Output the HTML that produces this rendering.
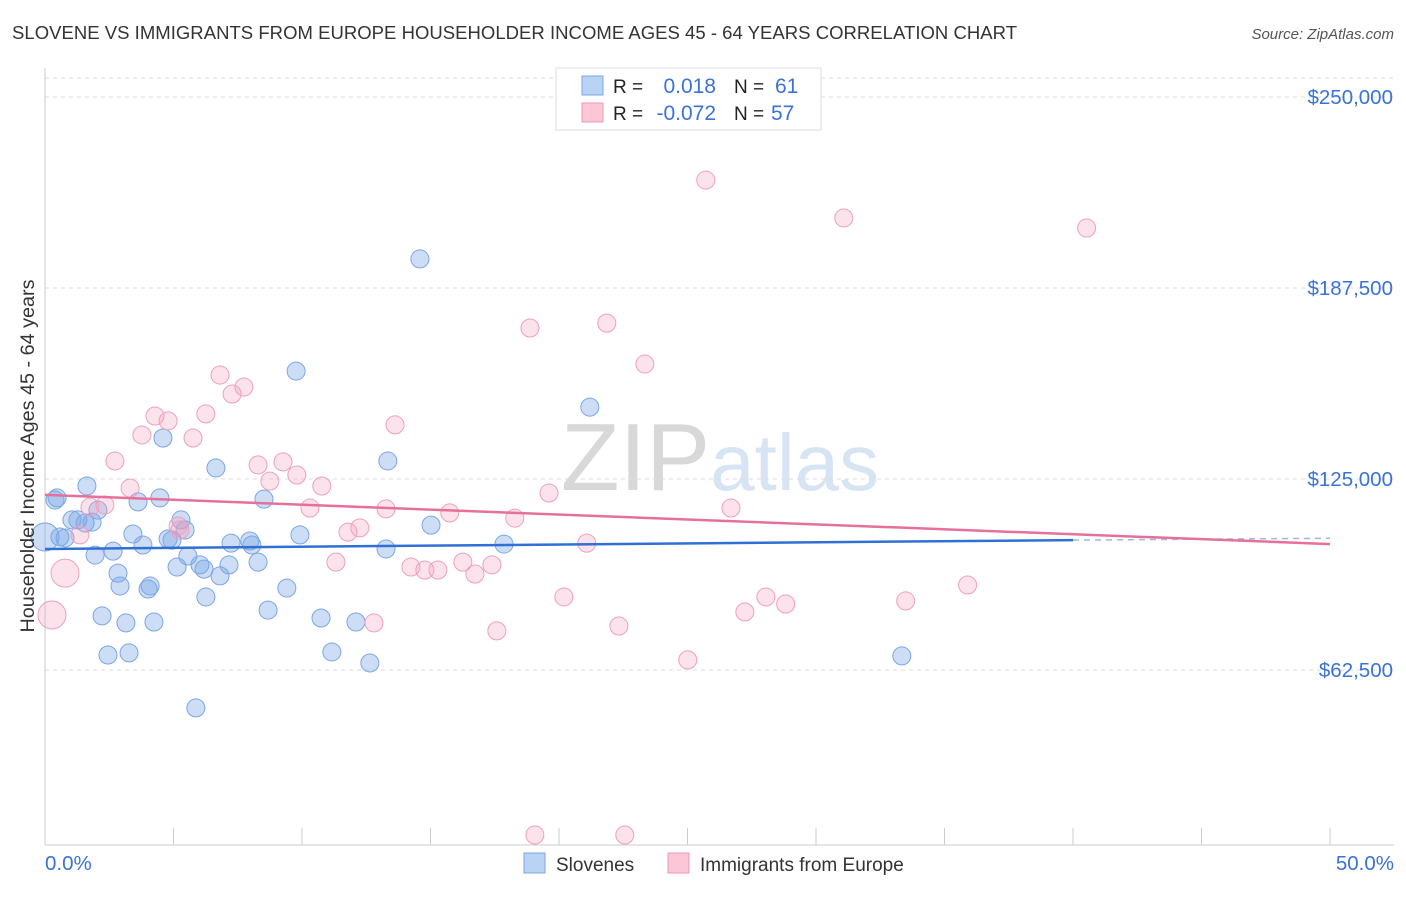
<!DOCTYPE html>
<html><head><meta charset="utf-8"><style>
body{margin:0;background:#fff;font-family:"Liberation Sans",sans-serif;}
svg text{font-family:"Liberation Sans",sans-serif;}
</style></head><body>
<svg id="c" width="1406" height="892" xmlns="http://www.w3.org/2000/svg">
<text x="12" y="39" font-size="18.5" fill="#333" textLength="1005">SLOVENE VS IMMIGRANTS FROM EUROPE HOUSEHOLDER INCOME AGES 45 - 64 YEARS CORRELATION CHART</text>
<text x="1394" y="39" font-size="15" fill="#555" font-style="italic" text-anchor="end">Source: ZipAtlas.com</text>
<text x="720" y="490" font-size="96" fill="#e4e4e4" text-anchor="middle" font-family="Liberation Serif"><tspan fill="#d8d8d8">ZIP</tspan><tspan fill="#d6e4f4" font-family="Liberation Sans" font-size="80">atlas</tspan></text>
<g id="grid"></g>
<g id="axes"></g>
<g id="marks"></g>
<text transform="translate(34,456) rotate(-90)" font-size="19.8" fill="#333" text-anchor="middle">Householder Income Ages 45 - 64 years</text>
<text x="45" y="870" font-size="20.5" fill="#3a72d8">0.0%</text>
<text x="1394" y="870" font-size="20.5" fill="#3a72d8" text-anchor="end">50.0%</text>
<g>
<rect x="556" y="68" width="265" height="62" fill="#fff" stroke="#ddd"/>
<rect x="582" y="76" width="21" height="19" fill="#b9d3f5" stroke="#7aa7e6"/>
<rect x="582" y="103" width="21" height="19" fill="#fbc6d6" stroke="#ec9ab6"/>
<text x="613" y="93" font-size="19" fill="#222">R =</text>
<text x="716" y="93" font-size="21" fill="#3a72d8" text-anchor="end">0.018</text>
<text x="734" y="93" font-size="19" fill="#222">N =</text>
<text x="775" y="93" font-size="21" fill="#3a72d8">61</text>
<text x="613" y="120" font-size="19" fill="#222">R =</text>
<text x="716" y="120" font-size="21" fill="#3a72d8" text-anchor="end">-0.072</text>
<text x="734" y="120" font-size="19" fill="#222">N =</text>
<text x="771" y="120" font-size="21" fill="#3a72d8">57</text>
</g>
<g>
<rect x="524" y="853" width="21" height="20" fill="#b9d3f5" stroke="#7aa7e6"/>
<text x="556" y="871" font-size="19" fill="#333">Slovenes</text>
<rect x="668" y="853" width="21" height="20" fill="#fbc6d6" stroke="#ec9ab6"/>
<text x="700" y="871" font-size="19" fill="#333">Immigrants from Europe</text>
</g>
</svg>
<script>
const yTicks=[62500,125000,187500,250000];
const yTickLabels=["$62,500","$125,000","$187,500","$250,000"];
const xTicks=[0,5,10,15,20,25,30,35,40,45,50];
const sloveneX=[0.39,0.47,0.58,0.78,1.05,1.28,1.56,1.63,1.83,1.95,2.06,2.22,2.45,2.65,2.84,2.92,3.15,3.27,3.42,3.62,3.81,4.01,4.09,4.24,4.47,4.59,4.79,4.94,5.14,5.29,5.45,5.56,5.87,6.03,6.19,6.26,6.65,6.81,7.16,7.24,7.97,8.05,8.29,8.52,8.68,9.41,9.77,9.92,10.74,11.16,12.10,12.64,13.27,13.34,14.59,15.02,17.86,21.20,33.34,0.0];
const sloveneY=[118.1,118.8,106.0,105.7,111.6,111.6,110.6,122.7,110.9,100.1,114.8,80.2,67.4,101.4,94.2,90.0,77.9,68.1,107.0,117.5,103.4,89.0,90.0,78.2,118.8,138.4,105.4,105.0,96.2,111.6,108.3,99.8,50.1,96.9,95.5,86.4,128.6,93.3,96.9,104.0,104.7,103.4,97.8,118.4,82.1,89.3,160.3,106.7,79.5,68.4,78.2,64.8,102.1,130.9,197.0,109.9,103.7,148.5,67.1,106.0];
const sloveneR=[9,9,9,9,9,9,9,9,9,9,9,9,9,9,9,9,9,9,9,9,9,9,9,9,9,9,9,9,9,9,9,9,9,9,9,9,9,9,9,9,9,9,9,9,9,9,9,9,9,9,9,9,9,9,9,9,9,9,9,14];
const immX=[0.27,0.78,1.36,2.33,2.72,3.31,3.77,4.28,4.79,5.18,5.76,6.26,6.81,7.28,7.74,8.29,8.75,9.26,9.80,10.31,10.77,11.32,11.79,12.25,12.80,13.27,13.62,14.24,14.78,15.29,15.75,16.26,16.73,17.39,17.58,18.28,18.87,19.61,20.19,21.08,21.86,22.33,22.56,19.06,23.34,25.01,25.71,26.69,27.23,28.05,28.82,31.08,33.49,35.90,40.53,1.75,5.25];
const immY=[80.5,94.2,106.7,116.5,130.9,122.0,139.4,145.6,144.0,109.6,138.4,146.3,159.0,152.8,155.1,129.6,124.3,130.6,126.3,115.5,122.7,97.8,107.6,109.0,77.9,115.2,142.7,96.2,95.2,95.2,113.9,97.8,93.9,96.9,75.3,112.2,174.4,120.4,86.4,104.0,176.0,76.9,8.5,8.5,162.6,65.8,222.8,115.5,81.5,86.4,84.1,210.4,85.1,90.3,207.1,115.8,108.3];
const immR=[14,14];
const sloveneTrend=[[0,102.1],[40,105.0],[50,105.6]];
const immTrend=[[0,119.8],[50,103.7]];
const NS="http://www.w3.org/2000/svg";
const xs=p=>45+p*25.7;
const ys=v=>861-v*1000/327.2;
function mk(t,a,parent){const e=document.createElementNS(NS,t);for(const k in a)e.setAttribute(k,a[k]);document.getElementById(parent).appendChild(e);return e;}
let g=mk('line',{x1:45,x2:1394,y1:78,y2:78,stroke:'#ddd','stroke-dasharray':'4,4'},'grid');


yTicks.forEach((v,i)=>{
 const l=mk('line',{x1:45,x2:1394,y1:ys(v/1000),y2:ys(v/1000),stroke:'#ddd','stroke-dasharray':'4,4'},'grid');
 
 
 const t=mk('text',{x:1393,y:ys(v/1000)+7,'font-size':20.5,fill:'#3a72d8','text-anchor':'end'},'grid');
 t.textContent=yTickLabels[i];
 
 
});
let ax=mk('line',{x1:45,x2:45,y1:68,y2:845,stroke:'#ccc'},'axes');


ax=mk('line',{x1:45,x2:1394,y1:845,y2:845,stroke:'#ccc'},'axes');


xTicks.forEach(p=>{
 const l=mk('line',{x1:xs(p),x2:xs(p),y1:828,y2:845,stroke:'#ccc'},'axes');
 
 
});
sloveneX.forEach((x,i)=>{
 const c=mk('circle',{cx:xs(x),cy:ys(sloveneY[i]),r:sloveneR[i]||9,fill:'rgba(120,165,230,0.38)',stroke:'#7aa7e6','stroke-width':1},'marks');
 
 
});
immX.forEach((x,i)=>{
 const c=mk('circle',{cx:xs(x),cy:ys(immY[i]),r:immR[i]||9,fill:'rgba(245,160,190,0.3)',stroke:'#eea0bb','stroke-width':1},'marks');
 
 
});
let tl=mk('line',{x1:xs(sloveneTrend[0][0]),y1:ys(sloveneTrend[0][1]),x2:xs(sloveneTrend[1][0]),y2:ys(sloveneTrend[1][1]),stroke:'#2f6fd6','stroke-width':2.5},'marks');


tl=mk('line',{x1:xs(sloveneTrend[1][0]),y1:ys(sloveneTrend[1][1]),x2:xs(sloveneTrend[2][0]),y2:ys(sloveneTrend[2][1]),stroke:'#9bb8e6','stroke-width':1.5,'stroke-dasharray':'6,5'},'marks');


tl=mk('line',{x1:xs(immTrend[0][0]),y1:ys(immTrend[0][1]),x2:xs(immTrend[1][0]),y2:ys(immTrend[1][1]),stroke:'#e6709a','stroke-width':2.5},'marks');


</script>
</body></html>
